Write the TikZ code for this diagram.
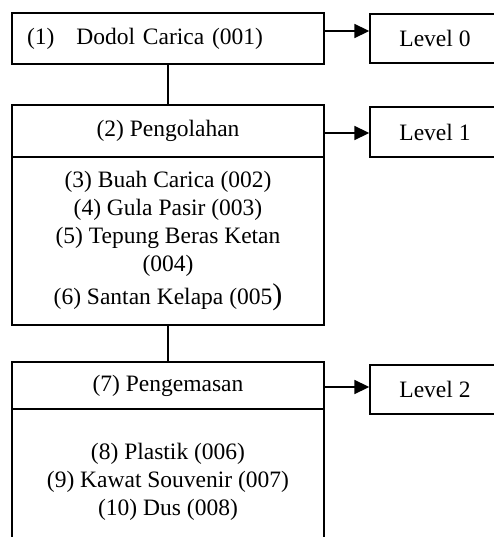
\documentclass[tikz,border=0pt]{standalone}
\usepackage{fontspec}
\setmainfont{Liberation Serif}
\usetikzlibrary{arrows.meta}
\begin{document}
\begin{tikzpicture}[x=1pt,y=-1pt,
                    box node/.style={rectangle,draw,line width=1.4pt,minimum width=312pt,inner sep=0pt,
                                     font=\fontsize{23.5}{28}\selectfont,align=center},
                    level node/.style={rectangle,draw,line width=1.4pt,minimum width=130pt,minimum height=49pt,
                                       font=\fontsize{23.5}{28}\selectfont},
                    arr/.style={line width=1.8pt,-{Triangle[length=15pt,width=14pt]}}]
  \useasboundingbox (0,0) rectangle (494,537);
  % left column
  \node[box node,minimum height=51pt,text width=282pt,align=left] (1) at (168,38.5) {(1)\hspace{22pt}Dodol Carica (001)};
  \node[box node,minimum height=52pt] (2) at (168,131) {(2) Pengolahan};
  \node[box node,minimum height=168pt] (2b) at (168,241) {(3) Buah Carica (002)\\(4) Gula Pasir (003)\\
        (5) Tepung Beras Ketan\\(004)\\[5pt](6) Santan Kelapa (005{\fontsize{30}{30}\selectfont)}};
  \node[box node,minimum height=146pt] (3b) at (168,482) {(8) Plastik (006)\\(9) Kawat Souvenir (007)\\(10) Dus (008)};
  \node[box node,minimum height=47pt] (3) at (168,385.5) {(7) Pengemasan};
  % levels
  \node[level node] (L0) at (435,38.5) {Level 0};
  \node[level node,minimum height=50pt] (L1) at (435,132) {Level 1};
  \node[level node] (L2) at (435,389.5) {Level 2};
  \path[line width=1.4pt]%
    (1) edge (2)
    (2b) edge (3);
  \draw[arr] ([yshift=7.5pt]1.east) -- ([yshift=7.5pt]1.east -| L0.west);
  \draw[arr] ([yshift=-2pt]2.east) -- ([yshift=-2pt]2.east -| L1.west);
  \draw[arr] ([yshift=-1.5pt]3.east) -- ([yshift=-1.5pt]3.east -| L2.west);
\end{tikzpicture}
\end{document}
